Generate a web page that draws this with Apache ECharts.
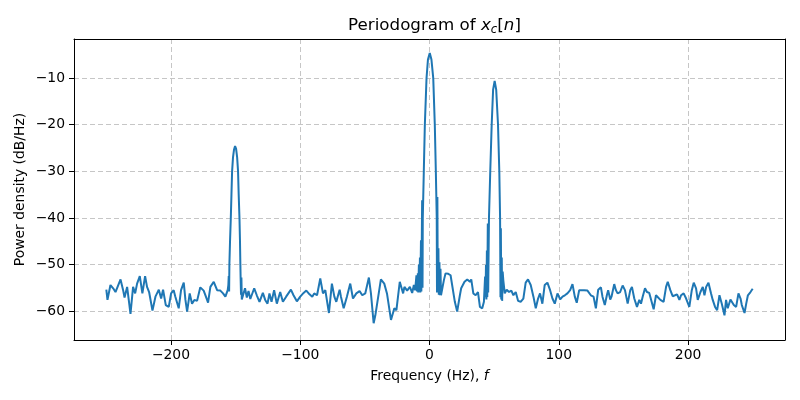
<!DOCTYPE html>
<html>
<head>
<meta charset="utf-8">
<script src="https://cdn.jsdelivr.net/npm/echarts@6/dist/echarts.min.js"></script>
<style>
  html, body { margin: 0; padding: 0; background: #fff; }
  #chart { width: 800px; height: 400px; }
</style>
</head>
<body>
<div id="chart"></div>
<script>
// frequency (Hz) and power density (dB/Hz)
const freqHz = [
  -250.0, -249.1, -246.8, -244.7, -242.9, -241.6, -239.0, -237.0, -235.9, -233.9,
  -231.3, -229.3, -227.7, -226.2, -224.1, -222.1, -220.0, -218.5, -216.9, -214.3,
  -212.0, -209.4, -207.6, -206.1, -204.0, -201.7, -199.9, -197.9, -196.6, -194.0,
  -192.2, -190.1, -188.8, -187.5, -185.5, -183.7, -181.9, -179.8, -177.3, -174.7,
  -173.1, -171.3, -169.5, -166.9, -164.3, -161.8, -159.7, -157.9, -156.1, -155.6,
  -155.3, -155.0,
  -154.8, -154.3, -153.7, -153.2, -152.7, -152.0, -151.2, -150.4, -149.6, -148.8,
  -148.1, -147.6, -147.0, -146.6, -146.3, -146.1, -145.8, -145.5, -145.2,
  -144.3, -142.7, -141.3, -140.0, -138.6, -135.6, -133.6, -131.5, -128.9, -127.1,
  -125.3, -123.8, -122.2, -120.2, -118.1, -115.5, -113.4, -110.9, -107.2, -105.2,
  -102.6, -100.0, -97.4, -95.3, -92.8, -90.7, -89.2, -87.0, -84.5, -82.4,
  -80.6, -77.8, -75.5, -73.6, -72.1, -69.5, -68.5, -66.4, -63.9, -61.3,
  -59.2, -56.6, -54.1, -52.0, -49.7, -46.9, -45.3, -43.2, -41.9, -40.7,
  -37.6, -35.0, -32.9, -29.8, -27.2, -25.6, -23.0, -20.4, -19.4, -17.3,
  -15.2, -13.4, -12.1, -11.1, -10.1, -9.6,
  -9.0, -8.7, -8.2, -7.9, -7.4, -7.1, -6.6, -6.3, -5.7, -5.4,
  -5.2, -4.4, -3.6, -2.3, -1.2, 0.2, 1.5, 2.9, 4.1, 4.9, 5.6,
  5.8, 6.1, 6.4, 6.9, 7.2, 7.7, 8.0, 8.5, 8.9,
  9.8, 11.1, 12.4, 14.5, 16.3, 17.6, 19.6, 21.4, 23.5, 24.5,
  27.1, 29.2, 31.3, 32.3, 33.9, 35.7, 37.5, 39.0, 40.8, 42.1,
  43.0, 43.3, 43.7, 44.0, 44.4, 44.7, 45.1, 45.4,
  46.0, 47.0, 48.1, 49.2, 50.4, 51.6, 53.0, 54.0, 54.6,
  54.9, 55.2, 55.5, 55.9, 56.2, 56.6,
  57.1, 58.2, 59.7, 61.5, 63.3, 64.9, 66.7, 68.5, 70.5, 72.6,
  74.4, 76.2, 78.3, 80.4, 82.2, 84.0, 85.5, 87.3, 89.1, 91.2,
  93.3, 95.1, 96.9, 99.0, 101.1, 102.9, 104.7, 106.7, 108.8, 110.6,
  112.4, 113.9, 115.8, 117.1, 119.6, 122.2, 124.8, 126.9, 128.7, 130.5,
  132.6, 133.8, 135.6, 137.2, 138.2, 139.8, 140.8, 142.9, 144.2, 145.5,
  147.5, 149.4, 151.2, 153.3, 155.3, 156.6, 158.4, 160.5, 162.3, 163.6,
  164.9, 166.7, 168.2, 170.0, 171.3, 173.4, 175.2, 176.5, 178.6, 181.1,
  183.0, 184.3, 186.3, 188.1, 189.9, 191.5, 193.3, 194.6, 196.6, 198.5,
  201.0, 202.9, 204.4, 206.2, 207.5, 209.6, 211.4, 212.7, 214.0, 215.8,
  217.8, 219.1, 220.9, 222.5, 224.3, 226.1, 228.2, 229.4, 230.7, 232.8,
  234.1, 235.4, 237.2, 239.0, 240.6, 241.6, 243.7, 245.0, 246.3, 248.3,
  250.0
];
const powerDb = [
  -55.4, -57.6, -54.4, -55.1, -55.9, -56.2, -53.2, -55.5, -57.1, -54.8,
  -60.6, -54.8, -56.2, -54.1, -52.5, -56.2, -52.5, -54.8, -55.9, -59.9,
  -56.9, -55.4, -57.3, -55.4, -58.7, -59.1, -56.2, -55.5, -56.9, -59.4,
  -55.5, -53.9, -57.6, -60.1, -56.2, -58.4, -57.6, -57.8, -54.9, -55.6,
  -56.8, -58.2, -54.8, -53.7, -55.5, -55.6, -56.2, -56.9, -55.5, -54.4,
  -52.5, -55.8,
  -50.0, -45.0, -40.0, -35.0, -30.0, -27.0, -25.3, -24.6, -25.2, -27.0,
  -30.0, -35.0, -40.0, -45.0, -50.0, -53.0, -56.5, -52.8, -57.5,
  -57.3, -55.1, -57.1, -55.7, -57.4, -55.1, -56.6, -58.0, -56.1, -57.6,
  -58.4, -56.2, -58.0, -55.5, -58.4, -55.9, -58.0, -56.9, -55.4, -56.6,
  -57.9, -56.9, -56.1, -55.6, -56.4, -56.9, -56.2, -56.6, -53.0, -56.2,
  -55.5, -60.4, -54.1, -56.9, -58.0, -55.4, -56.9, -59.4, -56.9, -54.1,
  -57.3, -56.2, -55.7, -56.6, -56.2, -52.8, -56.2, -62.6, -60.9, -61.2,
  -53.2, -54.1, -56.2, -61.9, -59.4, -59.8, -53.7, -56.2, -54.8, -55.6,
  -54.8, -56.1, -54.4, -55.5, -52.3, -55.8,
  -51.9, -56.0, -50.0, -55.5, -48.5, -56.0, -44.8, -55.8, -36.2, -55.0,
  -40.0, -30.0, -20.0, -10.0, -6.0, -4.6, -6.0, -10.0, -20.0, -30.0, -40.0,
  -56.0, -35.5, -56.0, -46.5, -56.5, -49.5, -56.6, -50.9, -56.6,
  -56.6, -53.4, -51.9, -52.0, -52.3, -52.6, -58.0, -60.1, -56.6, -55.1,
  -53.7, -53.2, -53.7, -53.2, -56.2, -56.6, -55.9, -59.1, -59.4, -58.0,
  -52.6, -57.0, -50.1, -57.5, -47.0, -57.0, -41.2, -56.0,
  -40.0, -30.0, -20.0, -12.5, -10.6, -12.5, -20.0, -30.0, -40.0,
  -57.0, -42.2, -57.5, -48.5, -57.8, -51.5,
  -53.4, -56.2, -55.4, -55.9, -55.6, -56.6, -55.9, -57.8, -58.0, -57.3,
  -53.9, -53.2, -54.4, -56.9, -59.4, -57.3, -56.2, -58.4, -54.4, -53.9,
  -55.5, -57.3, -58.4, -56.2, -57.5, -56.9, -56.6, -56.2, -55.5, -54.2,
  -56.9, -58.2, -55.5, -55.4, -55.5, -55.6, -56.6, -56.9, -59.4, -55.4,
  -54.9, -56.9, -58.7, -56.6, -55.5, -57.5, -56.9, -54.2, -55.5, -56.2,
  -55.9, -54.5, -55.5, -58.4, -55.5, -54.8, -57.3, -59.1, -57.6, -58.4,
  -56.9, -55.1, -55.9, -56.1, -56.2, -59.6, -56.6, -56.2, -57.6, -58.0,
  -54.8, -53.7, -55.5, -56.8, -56.6, -56.4, -57.6, -56.6, -56.2, -57.3,
  -59.1, -55.5, -53.9, -55.1, -57.6, -55.9, -54.8, -56.6, -54.8, -53.9,
  -56.2, -57.6, -59.1, -59.8, -56.6, -58.4, -60.9, -57.6, -59.4, -57.5,
  -57.3, -58.7, -59.1, -56.2, -57.3, -58.7, -60.4, -58.4, -56.6, -55.9,
  -55.2
];

const font = 'DejaVu Sans';
const xRange = [-275, 275];
const yRange = [-66.2, -1.6];
const minus = (v) => String(v).replace('-', '\u2212');

const gridLine = { show: true, lineStyle: { color: '#b8b8b8', width: 0.8, type: [5, 3] } };
const tickStyle = { show: true, length: 5, lineStyle: { color: '#000', width: 1 } };
const spine = { show: true, onZero: false, lineStyle: { color: '#000', width: 1 } };

const chart = echarts.init(document.getElementById('chart'), null, { renderer: 'canvas' });

const option = {
  animation: false,
  backgroundColor: '#fff',
  title: {
    text: 'Periodogram of {i|x}{s|c}[{i|n}]',
    left: 429.5,
    textAlign: 'center',
    top: 11,
    textStyle: {
      fontFamily: font,
      fontSize: 16.7,
      fontWeight: 'normal',
      color: '#000',
      rich: {
        i: { fontFamily: font, fontSize: 16.7, fontStyle: 'italic', color: '#000' },
        s: { fontFamily: font, fontSize: 11.7, fontStyle: 'italic', color: '#000', padding: [8, 0, 0, 0] }
      }
    }
  },
  grid: {
    left: 74,
    right: 15,
    top: 39,
    bottom: 60,
    containLabel: false
  },
  xAxis: [{
    type: 'value',
    min: xRange[0],
    max: xRange[1],
    minInterval: 100,
    maxInterval: 100,
    name: '{n|Frequency (Hz), }{i|f}',
    nameLocation: 'middle',
    nameGap: 29,
    nameMoveOverlap: false,
    nameTextStyle: {
      fontFamily: font,
      fontSize: 13.9,
      color: '#000',
      rich: {
        n: { fontFamily: font, fontSize: 13.9, color: '#000' },
        i: { fontFamily: font, fontSize: 13.9, fontStyle: 'italic', color: '#000' }
      }
    },
    axisLine: spine,
    axisTick: tickStyle,
    axisLabel: {
      showMinLabel: false,
      showMaxLabel: false,
      margin: 8,
      fontFamily: font,
      fontSize: 13.9,
      color: '#000',
      formatter: minus
    },
    splitLine: gridLine
  }, {
    type: 'value',
    position: 'top',
    min: xRange[0],
    max: xRange[1],
    axisLine: spine,
    axisTick: { show: false },
    axisLabel: { show: false },
    splitLine: { show: false }
  }],
  yAxis: [{
    type: 'value',
    min: yRange[0],
    max: yRange[1],
    minInterval: 10,
    maxInterval: 10,
    name: 'Power density (dB/Hz)',
    nameLocation: 'middle',
    nameGap: 47,
    nameMoveOverlap: false,
    nameRotate: 90,
    nameTextStyle: { fontFamily: font, fontSize: 13.9, color: '#000' },
    axisLine: spine,
    axisTick: tickStyle,
    axisLabel: {
      showMinLabel: false,
      showMaxLabel: false,
      margin: 9,
      fontFamily: font,
      fontSize: 13.9,
      color: '#000',
      formatter: minus
    },
    splitLine: gridLine
  }, {
    type: 'value',
    position: 'right',
    min: yRange[0],
    max: yRange[1],
    axisLine: spine,
    axisTick: { show: false },
    axisLabel: { show: false },
    splitLine: { show: false }
  }],
  series: [{
    type: 'line',
    xAxisIndex: 0,
    yAxisIndex: 0,
    data: freqHz.map((f, i) => [f, powerDb[i]]),
    showSymbol: false,
    symbol: 'none',
    sampling: null,
    lineStyle: { color: '#1f77b4', width: 2 },
    clip: true
  }]
};

chart.setOption(option);
</script>
</body>
</html>
